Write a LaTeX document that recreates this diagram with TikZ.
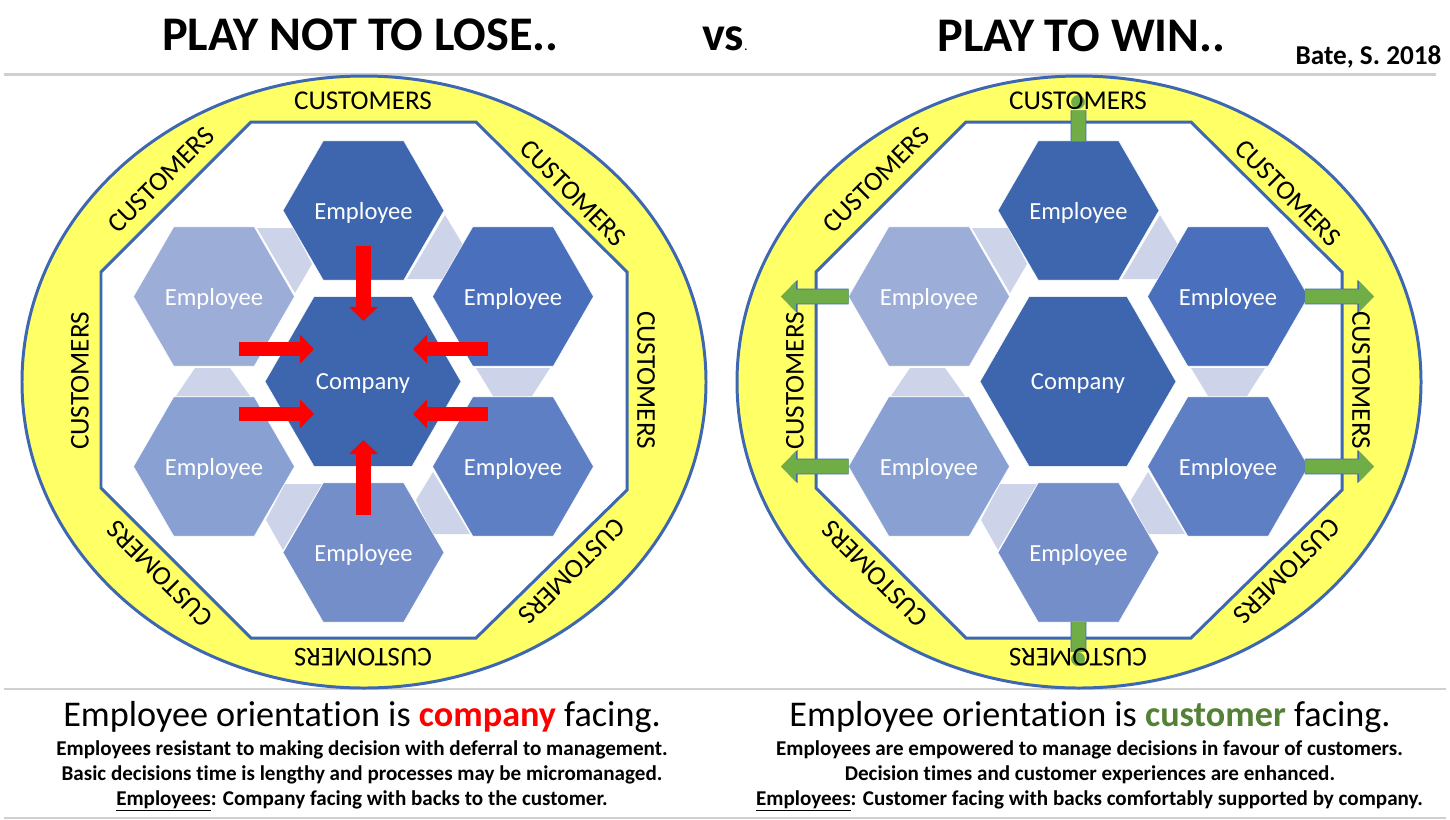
\documentclass[tikz,border=0pt]{standalone}
\usepackage{fontspec}
\setmainfont{Carlito}[Ligatures=CommonOff]
\usetikzlibrary{shapes.geometric,arrows.meta}

\definecolor{hexa}{HTML}{3D66AF}
\definecolor{hexb}{HTML}{4A70BD}
\definecolor{hexc}{HTML}{5E7FC4}
\definecolor{hexd}{HTML}{748ECA}
\definecolor{hexe}{HTML}{88A0D2}
\definecolor{hexf}{HTML}{9CADD8}
\definecolor{linkfill}{HTML}{CDD4E9}
\definecolor{bandfill}{HTML}{FFFF66}
\definecolor{bandedge}{HTML}{3E67B1}
\definecolor{grnfill}{HTML}{70AD47}
\definecolor{grntext}{HTML}{538135}
\definecolor{rulegray}{HTML}{D0D0D0}

\tikzset{
    emphex/.style={regular polygon, regular polygon sides=6, minimum size=3.22cm, inner sep=0pt, outer sep=0pt,
        draw=white, line width=0.3pt, text=white, text depth=0pt, font=\fontsize{14}{17}\selectfont},
    cpyhex/.style={emphex, minimum size=3.92cm, fill=hexa},
    custlbl/.style={font=\fontsize{15.45}{18}\selectfont, inner sep=0pt},
    headlbl/.style={font=\bfseries\fontsize{27.5}{32}\selectfont, inner sep=0pt, anchor=base},
    biglbl/.style={font=\fontsize{20.6}{24}\selectfont, inner sep=0pt, anchor=base},
    smalllbl/.style={font=\bfseries\fontsize{12}{14}\selectfont, inner sep=0pt, anchor=base},
    redarrow/.style={draw=red, line width=8pt, -{Triangle[width=16pt,length=8pt]}},
    grnarrow/.style={preaction={draw=bandedge, line width=9pt, -{Triangle[width=18.5pt,length=9.5pt]}},
        draw=grnfill, line width=8pt, -{Triangle[width=17pt,length=8.5pt]}},
    grayrule/.style={draw=rulegray, line width=1.2pt},
}

\begin{document}
\begin{tikzpicture}[x=0.02cm, y=-0.02cm]
    \useasboundingbox (0, 0) rectangle (1450, 819);

    \coordinate (ruletopa) at (4, 74.5);
    \coordinate (ruletopb) at (1436, 74.5);
    \coordinate (rulemida) at (4, 689);
    \coordinate (rulemidb) at (1446, 689);
    \coordinate (rulebota) at (4, 818);
    \coordinate (rulebotb) at (1446, 818);
    \draw[grayrule] (ruletopa) -- (ruletopb);
    \draw[grayrule] (rulemida) -- (rulemidb);
    \draw[grayrule] (rulebota) -- (rulebotb);

    \node[headlbl] (titlelose) at (360.5, 50) {PLAY NOT TO LOSE..};
    \node[headlbl] (titlevs) at (725, 50) {vs{\fontsize{8}{10}\selectfont\mdseries.}};
    \node[headlbl] (titlewin) at (1081.5, 51) {PLAY TO WIN..};
    \node[font=\bfseries\fontsize{15.5}{18}\selectfont, inner sep=0pt, anchor=base] (cite) at (1368.5, 64) {Bate, S. 2018};

    % both panels are the same apart from the shift
    \foreach \pn/\dx in {l/0, r/715} {
        \begin{scope}[shift={(\dx, 0)}]
            \draw[bandedge, fill=bandfill, line width=1.7pt] (364, 382) ellipse [x radius=342, y radius=306];
            \draw[bandedge, fill=white, line width=1.7pt] (251, 122) -- (476, 122) -- (627, 272) -- (627, 490)
                -- (476, 638) -- (251, 638) -- (101, 488) -- (101, 272) -- cycle;

            \fill[linkfill] (257, 228) -- (293, 228) -- (312, 264) -- (295, 293) -- cycle;
            \fill[linkfill] (445, 215) -- (463, 245) -- (443, 279) -- (407, 279) -- cycle;
            \fill[linkfill] (476, 368) -- (550, 368) -- (532, 396) -- (493, 396) -- cycle;
            \fill[linkfill] (433, 472) -- (416, 500) -- (432, 534) -- (470, 534) -- cycle;
            \fill[linkfill] (285, 484) -- (322, 484) -- (283, 550) -- (266, 520) -- cycle;
            \fill[linkfill] (176, 396) -- (250, 396) -- (230, 368) -- (195, 368) -- cycle;

            \node[emphex, fill=hexa] (\pn emptop) at (363.5, 210.5) {Employee};
            \node[emphex, fill=hexb] (\pn empur) at (513, 296.5) {Employee};
            \node[emphex, fill=hexc] (\pn emplr) at (513, 466.5) {Employee};
            \node[emphex, fill=hexd] (\pn empbot) at (363.5, 552.5) {Employee};
            \node[emphex, fill=hexe] (\pn empll) at (214, 466.5) {Employee};
            \node[emphex, fill=hexf] (\pn empul) at (214, 296.5) {Employee};
            \node[cpyhex] (\pn cpy) at (363, 381.5) {Company};
        \end{scope}
    }

    \coordinate (rdtopa) at (363.5, 246);
    \coordinate (rdtopb) at (363.5, 321);
    \coordinate (rdbota) at (363.5, 515);
    \coordinate (rdbotb) at (363.5, 440);
    \coordinate (rdula) at (239, 349);
    \coordinate (rdulb) at (314, 349);
    \coordinate (rdlla) at (239, 414);
    \coordinate (rdllb) at (314, 414);
    \coordinate (rdura) at (488, 349);
    \coordinate (rdurb) at (413, 349);
    \coordinate (rdlra) at (488, 414);
    \coordinate (rdlrb) at (413, 414);
    \draw[redarrow] (rdtopa) -- (rdtopb);
    \draw[redarrow] (rdbota) -- (rdbotb);
    \draw[redarrow] (rdula) -- (rdulb);
    \draw[redarrow] (rdlla) -- (rdllb);
    \draw[redarrow] (rdura) -- (rdurb);
    \draw[redarrow] (rdlra) -- (rdlrb);

    \coordinate (grtop) at (1078.5, 92);
    \coordinate (grbot) at (1078.5, 669);
    \coordinate (grul) at (781, 296.5);
    \coordinate (grll) at (781, 466.5);
    \coordinate (grur) at (1374, 296.5);
    \coordinate (grlr) at (1374, 466.5);
    \draw[grnarrow] (remptop.north) -- (grtop);
    \draw[grnarrow] (rempbot.south) -- (grbot);
    \draw[grnarrow] (rempul.west) -- (grul);
    \draw[grnarrow] (rempll.west) -- (grll);
    \draw[grnarrow, shorten <=-2pt] (rempur.east) -- (grur);
    \draw[grnarrow, shorten <=-2pt] (remplr.east) -- (grlr);

    % the band colour runs over the arrow heads, they only show through the O
    \fill[bandfill, even odd rule] (1060, 88) rectangle (1098, 110) (1078, 102) ellipse [x radius=7, y radius=7];
    \fill[bandfill, even odd rule] (1060, 652) rectangle (1098, 674) (1078, 659) ellipse [x radius=7, y radius=7];

    \foreach \pn/\dx in {l/0, r/715} {
        \begin{scope}[shift={(\dx, 0)}]
            \node[custlbl] (\pn cust1) at (363, 101) {CUSTOMERS};
            \node[custlbl, rotate=-45] (\pn cust2) at (573, 193) {CUSTOMERS};
            \node[custlbl, rotate=-90] (\pn cust3) at (646, 380) {CUSTOMERS};
            \node[custlbl, rotate=-135] (\pn cust4) at (572, 571) {CUSTOMERS};
            \node[custlbl, rotate=180] (\pn cust5) at (363, 657) {CUSTOMERS};
            \node[custlbl, rotate=135] (\pn cust6) at (160, 574) {CUSTOMERS};
            \node[custlbl, rotate=90] (\pn cust7) at (80, 381) {CUSTOMERS};
            \node[custlbl, rotate=45] (\pn cust8) at (161, 180) {CUSTOMERS};
        \end{scope}
    }

    \node[biglbl] (capl) at (362, 726) {Employee orientation is \textcolor{red}{\textbf{company}} facing.};
    \node[smalllbl] (capla) at (362, 755) {Employees resistant to making decision with deferral to management.};
    \node[smalllbl] (caplb) at (362, 780) {Basic decisions time is lengthy and processes may be micromanaged.};
    \node[smalllbl] (caplc) at (362, 805) {\underline{Employees}: Company facing with backs to the customer.};

    \node[biglbl] (capr) at (1090, 726) {Employee orientation is \textcolor{grntext}{\textbf{customer}} facing.};
    \node[smalllbl] (capra) at (1089.5, 755) {Employees are empowered to manage decisions in favour of customers.};
    \node[smalllbl] (caprb) at (1090, 780) {Decision times and customer experiences are enhanced.};
    \node[smalllbl] (caprc) at (1089.5, 805) {\underline{Employees}: Customer facing with backs comfortably supported by company.};
\end{tikzpicture}
\end{document}
